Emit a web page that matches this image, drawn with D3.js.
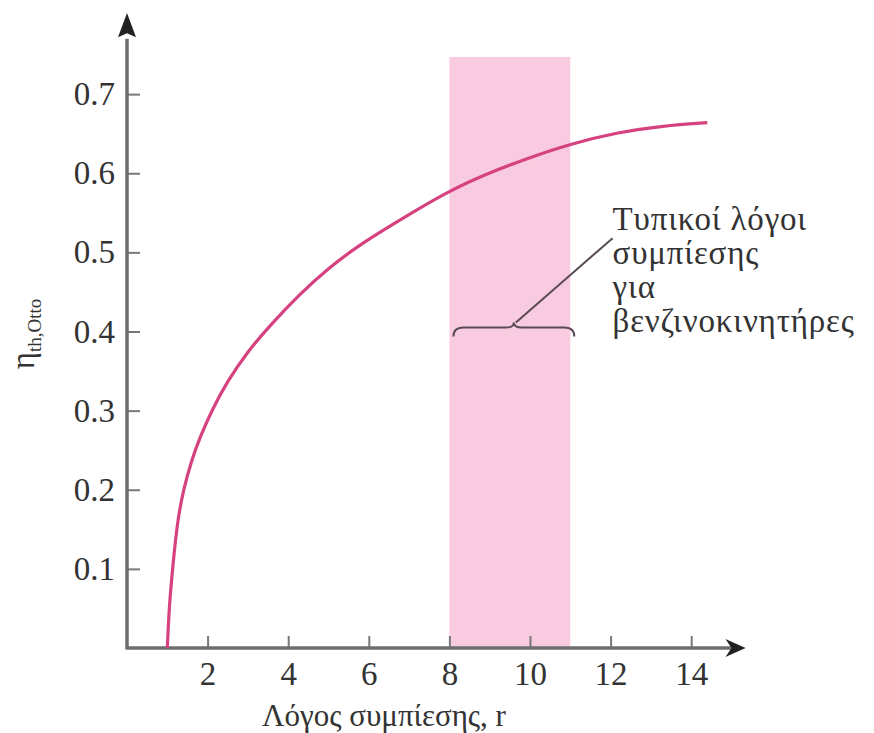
<!DOCTYPE html>
<html>
<head>
<meta charset="utf-8">
<script src="https://cdn.jsdelivr.net/npm/d3@7"></script>
<style>
  body { margin: 0; background: #fff; }
  svg text { font-family: "Liberation Serif", "DejaVu Serif", serif; fill: #333; }
</style>
</head>
<body>
<script>
// compression ratio r and efficiency
var ratio      = [1.0, 1.05, 1.14, 1.25, 1.4, 1.6, 1.8, 2.1, 2.5, 3.0, 3.5, 4.3, 5.0, 5.8, 7.0, 8.0, 9.0, 10.0, 11.0, 12.2, 13.3, 14.4];
var efficiency = [0, 0.055, 0.105, 0.16, 0.2, 0.237, 0.265, 0.3, 0.338, 0.375, 0.405, 0.448, 0.48, 0.511, 0.548, 0.578, 0.601, 0.62, 0.637, 0.652, 0.66, 0.664];

// typical range for petrol engines
var bandRange = [8, 11];
var bandTop = 0.747;

var xTicks = [2, 4, 6, 8, 10, 12, 14];
var yTicks = [0.1, 0.2, 0.3, 0.4, 0.5, 0.6, 0.7];

var noteLines = ["Τυπικοί λόγοι", "συμπίεσης", "για", "βενζινοκινητήρες"];

var width = 874, height = 733;

var svg = d3.select("body").append("svg")
    .attr("width", width)
    .attr("height", height);

var x = d3.scaleLinear().domain([0, 15.4]).range([127, 747.6]);
var y = d3.scaleLinear().domain([0, 0.8]).range([648, 15]);

//pink band
svg.append("rect")
    .attr("x", x(bandRange[0]))
    .attr("y", y(bandTop))
    .attr("width", x(bandRange[1]) - x(bandRange[0]))
    .attr("height", y(0) - y(bandTop))
    .attr("fill", "#f8cbe0");

//axes with inward ticks
var xAxis = svg.append("g")
    .attr("transform", "translate(0," + y(0) + ")")
    .call(d3.axisBottom(x).tickValues(xTicks).tickSize(-12).tickPadding(14).tickFormat(d3.format("d")));

var yAxis = svg.append("g")
    .attr("transform", "translate(" + x(0) + ",0)")
    .call(d3.axisLeft(y).tickValues(yTicks).tickSize(-13).tickPadding(12).tickFormat(d3.format(".1f")));

[xAxis, yAxis].forEach(function(g){
    g.select(".domain").remove();
    g.selectAll(".tick line").attr("stroke", "#777").attr("stroke-width", 2);
    g.selectAll(".tick text").style("font-size", "33px").attr("fill", "#2e2e2e");
});

//axis lines with arrows
svg.append("line")
    .attr("x1", x(0)).attr("y1", y(0))
    .attr("x2", x(15.0)).attr("y2", y(0))
    .attr("stroke", "#6e6e6e").attr("stroke-width", 3.5);
svg.append("line")
    .attr("x1", x(0)).attr("y1", y(0) + 1.5)
    .attr("x2", x(0)).attr("y2", y(0.77))
    .attr("stroke", "#6e6e6e").attr("stroke-width", 3.5);

svg.append("path")
    .attr("d", "M" + (x(15.4) - 2) + "," + y(0) + " L" + (x(14.85)) + "," + (y(0) - 9) +
               " L" + (x(15.0)) + "," + y(0) + " L" + (x(14.85)) + "," + (y(0) + 9) + "Z")
    .attr("fill", "#222");
svg.append("path")
    .attr("d", "M" + x(0) + "," + (y(0.8) - 2) + " L" + (x(0) - 9) + "," + y(0.772) +
               " L" + x(0) + "," + y(0.777) + " L" + (x(0) + 9) + "," + y(0.772) + "Z")
    .attr("fill", "#222");

//efficiency curve
var line = d3.line()
    .x(function(d, i){ return x(ratio[i]); })
    .y(function(d){ return y(d); })
    .curve(d3.curveBasis);

svg.append("path")
    .datum(efficiency)
    .attr("d", line)
    .attr("fill", "none")
    .attr("stroke", "#d6427f")
    .attr("stroke-width", 3.2);

//brace and leader line
var bx0 = x(8.1), bx1 = x(11.1), bm = x(9.6), by = y(0.405);
svg.append("path")
    .attr("d", "M" + bx0 + "," + (by + 9) + " Q" + bx0 + "," + by + " " + (bx0 + 10) + "," + by +
               " L" + (bm - 8) + "," + by + " Q" + bm + "," + by + " " + bm + "," + (by - 5) +
               " Q" + bm + "," + by + " " + (bm + 8) + "," + by +
               " L" + (bx1 - 10) + "," + by + " Q" + bx1 + "," + by + " " + bx1 + "," + (by + 9))
    .attr("fill", "none")
    .attr("stroke", "#5a4a55")
    .attr("stroke-width", 2);

svg.append("line")
    .attr("x1", bm + 2).attr("y1", by - 5)
    .attr("x2", x(12.05)).attr("y2", y(0.518))
    .attr("stroke", "#5a4a55")
    .attr("stroke-width", 2);

//annotation
svg.append("text")
    .attr("x", x(12.05))
    .attr("y", 230)
    .style("font-size", "33px")
    .style("letter-spacing", "0.8px")
    .selectAll("tspan")
    .data(noteLines)
    .enter()
    .append("tspan")
    .attr("x", x(12.05))
    .attr("dy", function(d, i){ return i == 0 ? 0 : 34; })
    .text(function(d){ return d; });

//axis titles
svg.append("text")
    .attr("x", 384)
    .attr("y", 726)
    .attr("text-anchor", "middle")
    .style("font-size", "31px")
    .text("Λόγος συμπίεσης, r");

var yt = svg.append("text")
    .attr("transform", "translate(34,334) rotate(-90)")
    .attr("text-anchor", "middle")
    .style("font-size", "33px");
yt.append("tspan").text("η");
yt.append("tspan").attr("dy", 7).style("font-size", "19px").text("th,Otto");
</script>
</body>
</html>
